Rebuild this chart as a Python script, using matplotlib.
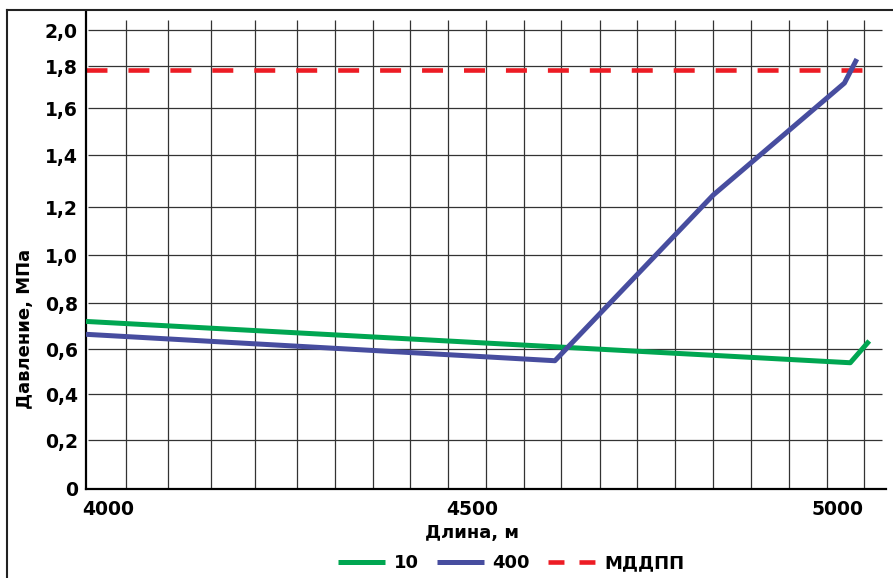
import matplotlib
matplotlib.use('Agg')
import matplotlib.pyplot as plt
from matplotlib.lines import Line2D
import numpy as np

plt.rcParams['font.family'] = 'DejaVu Sans'
plt.rcParams['font.weight'] = 'bold'
plt.rcParams['lines.scale_dashes'] = False

# data
x_10 = [3970, 5018, 5044]
p_10 = [0.720, 0.539, 0.635]

x_400 = [3970, 4613, 4830, 5010, 5027]
p_400 = [0.664, 0.548, 1.246, 1.719, 1.839]

x_mddpp = [3970, 5044]
p_mddpp = [1.78, 1.78]

x_labels = [4000, 4500, 5000]
y_ticks = [0, 0.2, 0.4, 0.6, 0.8, 1.0, 1.2, 1.4, 1.6, 1.8, 2.0]
y_labels = ['0', '0,2', '0,4', '0,6', '0,8', '1,0', '1,2', '1,4', '1,6', '1,8', '2,0']
# vertical grid lines (irregular in the original)
grid_x = [4025, 4082, 4141, 4202, 4259, 4311, 4364, 4414, 4466, 4519,
          4571, 4621, 4675, 4726, 4778, 4830, 4882, 4934, 4986, 5037]

# the original value axis is drawn unevenly; piecewise scale follows it
scale_vals = y_ticks + [2.2]
scale_pos = [0, 49, 95, 140, 186, 234, 282, 334, 381, 423, 459, 495]


def fwd(v):
    return np.interp(v, scale_vals, scale_pos)


def inv(u):
    return np.interp(u, scale_pos, scale_vals)


green = '#00a651'
blue = '#474d9f'
red = '#ed1c24'

fig = plt.figure(figsize=(8.93, 5.78), dpi=100)
ax = fig.add_axes([86/893, 89/578, 800/893, 478/578])
ax.set_yscale('function', functions=(fwd, inv))
ax.set_xlim(3970, 5067)
ax.set_ylim(0, 2.106)

# grid
ax.vlines(grid_x, 0, 2.056, color='#333333', lw=0.9, zorder=1)
ax.hlines(y_ticks[1:], 3973, 5062, color='#333333', lw=0.9, zorder=1)

ax.plot(x_10, p_10, color=green, lw=3.6, solid_capstyle='butt', zorder=3)
ax.plot(x_400, p_400, color=blue, lw=3.6, solid_capstyle='butt', zorder=3)
ax.plot(x_mddpp, p_mddpp, color=red, lw=3.3, dashes=(15.1, 15.1),
        dash_capstyle='butt', zorder=2)

for s in ['top', 'right']:
    ax.spines[s].set_visible(False)
ax.spines['left'].set_linewidth(1.6)
ax.spines['bottom'].set_linewidth(1.6)

ax.set_xticks(x_labels)
ax.set_xticklabels([str(v) for v in x_labels])
ax.set_yticks(y_ticks)
ax.set_yticklabels(y_labels)
ax.yaxis.set_minor_locator(matplotlib.ticker.NullLocator())
ax.tick_params(axis='x', length=0, pad=8, labelsize=13.5)
ax.tick_params(axis='y', length=0, pad=6, labelsize=13.5)

ax.set_xlabel('Длина, м', fontsize=13, fontweight='bold')
ax.set_ylabel('Давление, МПа', fontsize=13, fontweight='bold')
ax.yaxis.set_label_coords(-0.065, 0.335)
ax.xaxis.set_label_coords(0.483, -0.073)

# outer frame (left and top only)
fig.add_artist(Line2D([7/893, 7/893], [0, 1 - 10/578], transform=fig.transFigure,
                      color='#222222', lw=1.5))
fig.add_artist(Line2D([7/893, 1], [1 - 10/578, 1 - 10/578], transform=fig.transFigure,
                      color='#222222', lw=1.5))

handles = [Line2D([], [], color=green, lw=3.6, solid_capstyle='butt'),
           Line2D([], [], color=blue, lw=3.6, solid_capstyle='butt'),
           Line2D([], [], color=red, lw=3.3, dashes=(11.5, 10.8), dash_capstyle='butt')]
fig.legend(handles, ['10', '400', 'МДДПП'], loc='center',
           bbox_to_anchor=(511/893, 15/578), ncol=3, frameon=False,
           fontsize=13, handlelength=2.6, handletextpad=0.5, columnspacing=1.0)

fig.savefig('out.png', dpi=100)
